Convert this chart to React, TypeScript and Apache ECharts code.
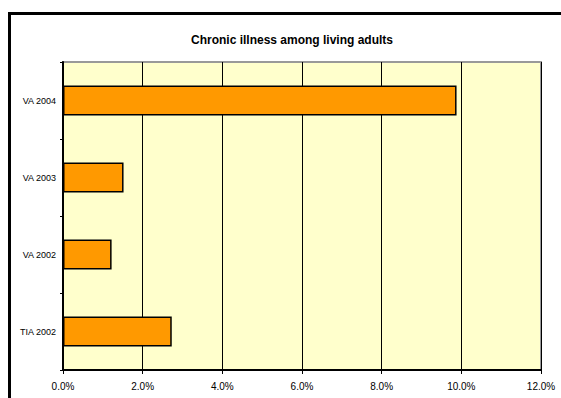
import React, { useEffect, useRef } from "react";
import * as echarts from "echarts";

const title = "Chronic illness among living adults";
const categories = ["TIA 2002", "VA 2002", "VA 2003", "VA 2004"];
const values = [2.73, 1.22, 1.52, 9.88];
const xMin = 0;
const xMax = 12;
const xStep = 2;

export default function App() {
  const ref = useRef<HTMLDivElement>(null);
  useEffect(() => {
    if (!ref.current) return;
    const chart = echarts.init(ref.current, null, { renderer: "svg" });
    chart.setOption({
      animation: false,
      backgroundColor: "#ffffff",
      textStyle: { fontFamily: "Liberation Sans, Arial, sans-serif" },
      title: {
        text: title,
        left: 287,
        top: 29,
        textAlign: "center",
        textStyle: {
          fontFamily: "Liberation Sans, Arial, sans-serif",
          fontSize: 12,
          fontWeight: "bold",
          color: "#000",
        },
      },
      graphic: [
        {
          type: "line",
          shape: { x1: 9.5, y1: 12, x2: 9.5, y2: 398 },
          style: { stroke: "#000", lineWidth: 3 },
          z: 100,
        },
        {
          type: "line",
          shape: { x1: 8, y1: 13.5, x2: 561, y2: 13.5 },
          style: { stroke: "#000", lineWidth: 3 },
          z: 100,
        },
      ],
      grid: {
        left: 63,
        right: 20,
        top: 62,
        bottom: 28,
        show: true,
        backgroundColor: "#FFFFCC",
        borderColor: "#999999",
        borderWidth: 2,
      },
      xAxis: {
        type: "value",
        min: xMin,
        max: xMax,
        interval: xStep,
        axisLine: { show: true, onZero: false, lineStyle: { color: "#000", width: 2 } },
        axisTick: { show: true, length: 4, lineStyle: { color: "#000", width: 1 } },
        axisLabel: {
          formatter: (v: number) => v.toFixed(1) + "%",
          fontSize: 10,
          color: "#000",
          margin: 11,
        },
        splitLine: { show: true, lineStyle: { color: "#000", width: 1 } },
      },
      yAxis: {
        type: "category",
        data: categories,
        axisLine: { show: true, lineStyle: { color: "#000", width: 2 } },
        axisTick: { show: true, length: 3, lineStyle: { color: "#000", width: 1 } },
        axisLabel: { fontSize: 9, color: "#000", margin: 7 },
        splitLine: { show: false },
      },
      series: [
        {
          type: "bar",
          data: values,
          barCategoryGap: "61%",
          itemStyle: { color: "#FF9900", borderColor: "#000", borderWidth: 1.5 },
        },
      ],
    });
    return () => chart.dispose();
  }, []);
  return (
    <div
      ref={ref}
      style={{ position: "fixed", left: 0, top: 0, width: 561, height: 398, overflow: "hidden" }}
    />
  );
}
